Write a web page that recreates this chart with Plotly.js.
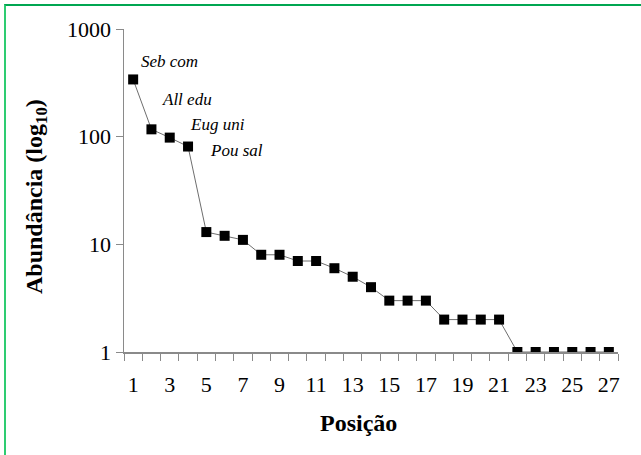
<!DOCTYPE html>
<html>
<head>
<meta charset="utf-8">
<script src="https://cdn.plot.ly/plotly-3.0.1.min.js"></script>
<style>
  html, body { margin: 0; padding: 0; background: #fff; }
  #wrap { position: relative; width: 641px; height: 455px; overflow: hidden; }
  #chart { position: absolute; left: 0; top: 0; width: 641px; height: 455px; }
  #frame { position: absolute; left: 4px; top: 4px; width: 700px; height: 500px;
           border-top: 2px solid #00a651; border-left: 2px solid #2ecc71; pointer-events: none; }
</style>
</head>
<body>
<div id="wrap">
  <div id="chart"></div>
  <div id="frame"></div>
</div>
<script>
// Rank positions and abundances
const positions = [1,2,3,4,5,6,7,8,9,10,11,12,13,14,15,16,17,18,19,20,21,22,23,24,25,26,27];
const abundance = [340,117,98,81,13,12,11,8,8,7,7,6,5,4,3,3,3,2,2,2,2,1,1,1,1,1,1];

// Tick labels
const xLabelVals = [1,3,5,7,9,11,13,15,17,19,21,23,25,27];
const xLabelText = xLabelVals.map(String);
const xBoundaryTicks = [0.5,1.5,2.5,3.5,4.5,5.5,6.5,7.5,8.5,9.5,10.5,11.5,12.5,13.5,14.5,15.5,16.5,17.5,18.5,19.5,20.5,21.5,22.5,23.5,24.5,25.5,26.5,27.5];
const yTickVals = [1,10,100,1000];
const yTickText = ['1','10','100','1000'];

// Species labels for top-ranked species
const speciesNames = ['Seb com','All edu','Eug uni','Pou sal'];
const speciesLabelX = [1.33, 2.48, 4.01, 5.1];
const speciesLabelY = [495, 220, 131, 74];

const xTitle = 'Posição';
const yTitle = 'Abundância (log<sub>10</sub>)';

const serif = 'Liberation Serif';
const axisGray = '#8a8a8a';

const traces = [
  {
    x: positions, y: abundance,
    type: 'scatter', mode: 'lines+markers',
    line: {color: '#6e6e6e', width: 1},
    marker: {symbol: 'square', size: 10, color: '#000000'},
    hoverinfo: 'x+y', showlegend: false
  },
  {
    x: positions, y: abundance,
    xaxis: 'x2', type: 'scatter', mode: 'markers',
    marker: {opacity: 0}, hoverinfo: 'skip', showlegend: false
  }
];

const annotations = speciesNames.map((t, i) => ({
  text: t, x: speciesLabelX[i], y: Math.log10(speciesLabelY[i]),
  xref: 'x', yref: 'y', xanchor: 'left', yanchor: 'middle',
  showarrow: false,
  font: {family: serif, size: 17, style: 'italic', color: '#000'}
}));

annotations.push({
  text: '<b>' + xTitle + '</b>', xref: 'paper', yref: 'paper',
  x: 0.474, y: -0.22, xanchor: 'center', yanchor: 'middle', showarrow: false,
  font: {family: serif, size: 24, color: '#000'}
});
annotations.push({
  text: '<b>' + yTitle + '</b>', xref: 'paper', yref: 'paper', textangle: -90,
  x: -0.178, y: 0.48, xanchor: 'center', yanchor: 'middle', showarrow: false,
  font: {family: serif, size: 24, color: '#000'}
});

const layout = {
  width: 641, height: 455,
  margin: {l: 124, r: 23, t: 29, b: 103},
  paper_bgcolor: '#ffffff', plot_bgcolor: '#ffffff',
  showlegend: false,
  font: {family: serif, color: '#000'},
  xaxis: {
    range: [0.5, 27.5],
    tickmode: 'array', tickvals: xBoundaryTicks,
    showticklabels: false,
    ticks: 'outside', ticklen: 7, tickwidth: 1, tickcolor: axisGray,
    showline: true, linecolor: axisGray, linewidth: 1.5,
    showgrid: false, zeroline: false
  },
  xaxis2: {
    overlaying: 'x', anchor: 'y', side: 'bottom',
    range: [0.5, 27.5],
    tickmode: 'array', tickvals: xLabelVals, ticktext: xLabelText,
    ticks: 'outside', ticklen: 13, tickcolor: 'rgba(0,0,0,0)',
    tickfont: {family: serif, size: 22, color: '#000'},
    showline: false, showgrid: false, zeroline: false
  },
  yaxis: {
    type: 'log', range: [0, 3],
    tickmode: 'array', tickvals: yTickVals, ticktext: yTickText,
    ticks: 'outside', ticklen: 7, tickwidth: 1, tickcolor: axisGray,
    tickfont: {family: serif, size: 22, color: '#000'},
    showline: true, linecolor: axisGray, linewidth: 1.5,
    showgrid: false, zeroline: false
  },
  annotations: annotations
};

Plotly.newPlot('chart', traces, layout, {displayModeBar: false, staticPlot: true});
</script>
</body>
</html>
